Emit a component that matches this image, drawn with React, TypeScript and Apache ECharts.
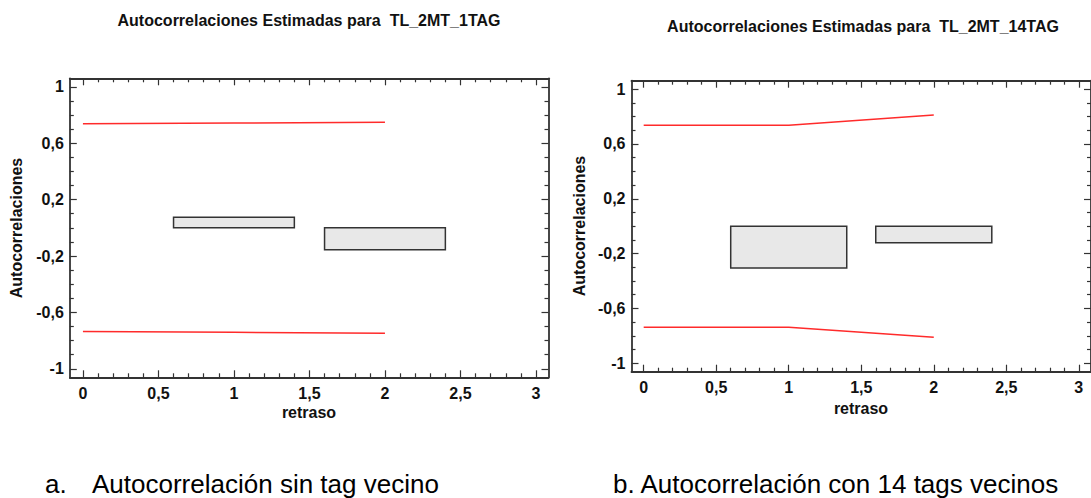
import React, { useEffect, useRef } from "react";
import * as echarts from "echarts";

// ---- data ----
const lagsA = [1, 2];
const acfA = [0.075, -0.155];
const limitLagsA = [0, 1, 2];
const upperA = [0.738, 0.743, 0.748];
const lowerA = [-0.736, -0.741, -0.747];

const lagsB = [1, 2];
const acfB = [-0.305, -0.12];
const limitLagsB = [0, 1, 2];
const upperB = [0.737, 0.737, 0.811];
const lowerB = [-0.737, -0.737, -0.811];

const xMajor = [0, 0.5, 1, 1.5, 2, 2.5, 3];
const yMajor = [-1, -0.6, -0.2, 0.2, 0.6, 1];

const titleA = "Autocorrelaciones Estimadas para  TL_2MT_1TAG";
const titleB = "Autocorrelaciones Estimadas para  TL_2MT_14TAG";
const captionA = "Autocorrelación sin tag vecino";
const captionB = "b. Autocorrelación con 14 tags vecinos";
const yName = "Autocorrelaciones";
const xName = "retraso";

const FONT = "'Liberation Sans', Arial, Helvetica, sans-serif";
const FRAME = "#333333";

function minors(lo: number, hi: number, majors: number[]) {
  const out: number[] = [];
  for (let i = Math.round(lo * 10); i <= Math.round(hi * 10); i++) {
    const v = i / 10;
    if (!majors.some((m) => Math.abs(m - v) < 1e-9)) out.push(v);
  }
  return out;
}
const xMinor = minors(0, 3, xMajor);
const yMinor = minors(-1, 1, yMajor);

const fmt = (v: number) => String(v).replace(".", ",");

function axesFor(grid: number, xmin: number, xmax: number, ymin: number, ymax: number) {
  const line = { color: FRAME, width: 1.8 };
  const tickStyle = { color: FRAME, width: 1.2 };
  const label = {
    fontFamily: FONT,
    fontWeight: "bold" as const,
    fontSize: 16,
    color: "#111",
    formatter: fmt,
  };
  const xs: any[] = [];
  const ys: any[] = [];
  (["bottom", "top"] as const).forEach((pos) => {
    xs.push({
      type: "value", gridIndex: grid, position: pos, min: xmin, max: xmax,
      axisLine: { show: true, onZero: false, lineStyle: line },
      axisTick: { show: true, inside: true, length: 7, customValues: xMajor, lineStyle: tickStyle },
      axisLabel: pos === "bottom" ? { ...label, customValues: xMajor, margin: 8 } : { show: false },
      splitLine: { show: false },
    });
    xs.push({
      type: "value", gridIndex: grid, position: pos, min: xmin, max: xmax,
      axisLine: { show: false, onZero: false },
      axisTick: { show: true, inside: true, length: 4, customValues: xMinor, lineStyle: tickStyle },
      axisLabel: { show: false },
      splitLine: { show: false },
    });
  });
  (["left", "right"] as const).forEach((pos) => {
    ys.push({
      type: "value", gridIndex: grid, position: pos, min: ymin, max: ymax,
      axisLine: { show: true, onZero: false, lineStyle: line },
      axisTick: { show: true, inside: true, length: 7, customValues: yMajor, lineStyle: tickStyle },
      axisLabel: pos === "left" ? { ...label, customValues: yMajor, margin: 6 } : { show: false },
      splitLine: { show: false },
    });
    ys.push({
      type: "value", gridIndex: grid, position: pos, min: ymin, max: ymax,
      axisLine: { show: false, onZero: false },
      axisTick: { show: true, inside: true, length: 4, customValues: yMinor, lineStyle: tickStyle },
      axisLabel: { show: false },
      splitLine: { show: false },
    });
  });
  return { xs, ys };
}

const renderBar = (params: any, api: any) => {
  const x = api.value(0);
  const v = api.value(1);
  const p1 = api.coord([x - 0.4, v]);
  const p2 = api.coord([x + 0.4, 0]);
  return {
    type: "rect",
    shape: {
      x: p1[0],
      y: Math.min(p1[1], p2[1]),
      width: p2[0] - p1[0],
      height: Math.abs(p2[1] - p1[1]),
    },
    style: { fill: "#e8e8e8", stroke: "#333", lineWidth: 1.5 },
  };
};

export default function App() {
  const ref = useRef<HTMLDivElement>(null);
  useEffect(() => {
    if (!ref.current) return;
    const chart = echarts.init(ref.current, undefined, { renderer: "svg" });
    const a = axesFor(0, -0.087, 3.083, -1.06, 1.06);
    const b = axesFor(1, -0.084, 3.084, -1.062, 1.062);
    const xAxis = [...a.xs, ...b.xs];
    const yAxis = [...a.ys, ...b.ys];
    const bx = a.xs.length;
    const by = a.ys.length;
    const red = { color: "#ff2b2b", width: 1.5 };
    const mkLine = (xs: number[], ys: number[], xi: number, yi: number) => ({
      type: "line",
      xAxisIndex: xi,
      yAxisIndex: yi,
      data: xs.map((x, i) => [x, ys[i]]),
      symbol: "none",
      lineStyle: red,
      silent: true,
    });
    const mkBars = (xs: number[], vs: number[], xi: number, yi: number) => ({
      type: "custom",
      xAxisIndex: xi,
      yAxisIndex: yi,
      data: xs.map((x, i) => [x, vs[i]]),
      renderItem: renderBar,
      encode: { x: 0, y: 1 },
    });
    const txt = (text: string, x: number, y: number, extra: any = {}) => ({
      type: "text",
      x,
      y,
      style: {
        text,
        fontFamily: FONT,
        fontSize: 16,
        fontWeight: "bold",
        fill: "#111",
        textAlign: "center",
        textVerticalAlign: "middle",
        ...extra,
      },
    });
    const cap = { fontWeight: "normal", fontSize: 26, textAlign: "left", fill: "#000" };
    chart.setOption({
      animation: false,
      backgroundColor: "#ffffff",
      grid: [
        { left: 69.8, top: 78.3, width: 478.7, height: 299, containLabel: false },
        { left: 631.5, top: 80.7, width: 462.5, height: 291, containLabel: false },
      ],
      xAxis,
      yAxis,
      series: [
        mkLine(limitLagsA, upperA, 0, 0),
        mkLine(limitLagsA, lowerA, 0, 0),
        mkBars(lagsA, acfA, 0, 0),
        mkLine(limitLagsB, upperB, bx, by),
        mkLine(limitLagsB, lowerB, bx, by),
        mkBars(lagsB, acfB, bx, by),
      ],
      graphic: [
        txt(titleA, 309, 20),
        txt(titleB, 863, 26),
        txt(xName, 309, 412),
        txt(xName, 861, 408),
        { ...txt(yName, 16, 228), rotation: Math.PI / 2 },
        { ...txt(yName, 579, 226), rotation: Math.PI / 2 },
        txt("a.", 45, 484, cap),
        txt(captionA, 92, 484, cap),
        txt(captionB, 613, 484, cap),
      ],
    });
    return () => chart.dispose();
  }, []);
  return (
    <div
      ref={ref}
      style={{ position: "absolute", left: 0, top: 0, width: 1091, height: 498, background: "#fff" }}
    />
  );
}
